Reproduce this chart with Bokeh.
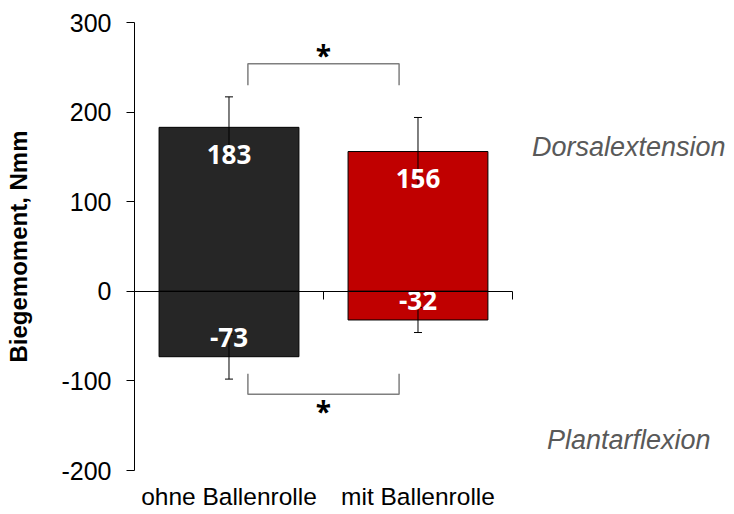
from bokeh.plotting import figure
from bokeh.models import Range1d, LinearAxis, FixedTicker, ColumnDataSource
from bokeh.core.properties import value
from bokeh.embed import file_html
from bokeh.resources import INLINE

# ---- data ----
categories = ["ohne Ballenrolle", "mit Ballenrolle"]
dorsal = [183, 156]          # Dorsalextension (positive)
dorsal_err = [34, 38]
plantar = [-73, -32]         # Plantarflexion (negative)
plantar_err = [25, 14]
bar_colors = ["#262626", "#C00000"]
y_ticks = [-200, -100, 0, 100, 200, 300]
y_tick_labels = ["-200", "-100", "0", "100", "200", "300"]
region_labels = ["Dorsalextension", "Plantarflexion"]
region_values = [161, -166]
# significance brackets: (end value, bar value, star value)
sig_top = (230, 254, 264)
sig_bottom = (-92, -115, -134)
sig_span = (0.6, 1.4)

FONT = "Liberation Sans"

p = figure(frame_width=594, frame_height=448,
           x_range=Range1d(0, 3.143), y_range=Range1d(-200, 300),
           output_backend="svg", toolbar_location=None,
           x_axis_type=None, y_axis_type=None,
           min_border_left=134, min_border_right=0,
           min_border_top=22, min_border_bottom=30)
p.outline_line_color = None
p.background_fill_color = "white"
p.border_fill_color = "white"

xc = [i + 0.5 for i in range(len(categories))]

# bars
for vals in (dorsal, plantar):
    src = ColumnDataSource(dict(x=xc, top=vals, color=bar_colors))
    p.vbar(x="x", top="top", bottom=0, width=0.74, fill_color="color",
           line_color="black", line_width=1, source=src)

# error bars (symmetric)
for vals, errs in ((dorsal, dorsal_err), (plantar, plantar_err)):
    lo = [v - e for v, e in zip(vals, errs)]
    hi = [v + e for v, e in zip(vals, errs)]
    p.segment(x0=xc, y0=lo, x1=xc, y1=hi, line_color="black", line_width=1)
    p.scatter(x=xc + xc, y=lo + hi, marker="dash", size=8,
              line_color="black", line_width=1)

# value labels
all_x = xc + xc
all_v = dorsal + plantar
offs = [27 if v > 0 else -19 for v in all_v]
p.text(x=all_x, y=all_v, text=[str(v) for v in all_v], y_offset=offs,
       text_color="white", text_font=value("Open Sans"), text_font_style="bold",
       text_font_size="26px", text_align="center", text_baseline="middle")

# significance brackets
for end, bar, star in (sig_top, sig_bottom):
    p.line(x=[sig_span[0], sig_span[0], sig_span[1], sig_span[1]],
           y=[end, bar, bar, end], line_color="#7F7F7F", line_width=1.5)
    p.text(x=[(sig_span[0] + sig_span[1]) / 2], y=[star], text=["*"],
           text_color="black", text_font=value("Open Sans"), text_font_style="bold",
           text_font_size="28px", text_align="center", text_baseline="middle")

# region labels
p.text(x=[2.615, 2.615], y=region_values, text=region_labels,
       text_color="#595959", text_font=value(FONT), text_font_style="italic",
       text_font_size="27px", text_align="center", text_baseline="middle")

# y axis
yaxis = LinearAxis(ticker=FixedTicker(ticks=y_ticks),
                   major_label_overrides={t: s for t, s in zip(y_ticks, y_tick_labels)},
                   axis_label="Biegemoment, Nmm",
                   axis_label_text_font=FONT, axis_label_text_font_style="bold",
                   axis_label_text_font_size="24px", axis_label_standoff=26,
                   axis_label_text_color="black",
                   major_label_text_font=FONT, major_label_text_font_size="25px",
                   major_label_text_color="black",
                   major_label_standoff=15, major_tick_out=8, major_tick_in=0,
                   minor_tick_line_color=None, axis_line_color="black",
                   major_tick_line_color="black")
p.add_layout(yaxis, "left")

# category labels axis
cat_axis = LinearAxis(ticker=FixedTicker(ticks=xc),
                      major_label_overrides={x: c for x, c in zip(xc, categories)},
                      major_label_text_font=FONT, major_label_text_font_size="24.5px",
                      major_label_text_color="black",
                      major_label_standoff=12, axis_line_color=None,
                      major_tick_line_color=None, minor_tick_line_color=None,
                      major_tick_out=0, major_tick_in=0)
p.add_layout(cat_axis, "below")

# zero line axis with category separators (ticks pointing down)
zero_axis = LinearAxis(fixed_location=0, ticker=FixedTicker(ticks=[0, 1, 2]),
                       bounds=(0, 2), major_tick_out=0, major_tick_in=8,
                       major_label_standoff=0,
                       major_label_text_font_size="0px", major_label_text_color=None,
                       minor_tick_line_color=None, axis_line_color="black",
                       major_tick_line_color="black")
p.add_layout(zero_axis, "above")

open("out.html", "w").write(file_html(p, INLINE))
